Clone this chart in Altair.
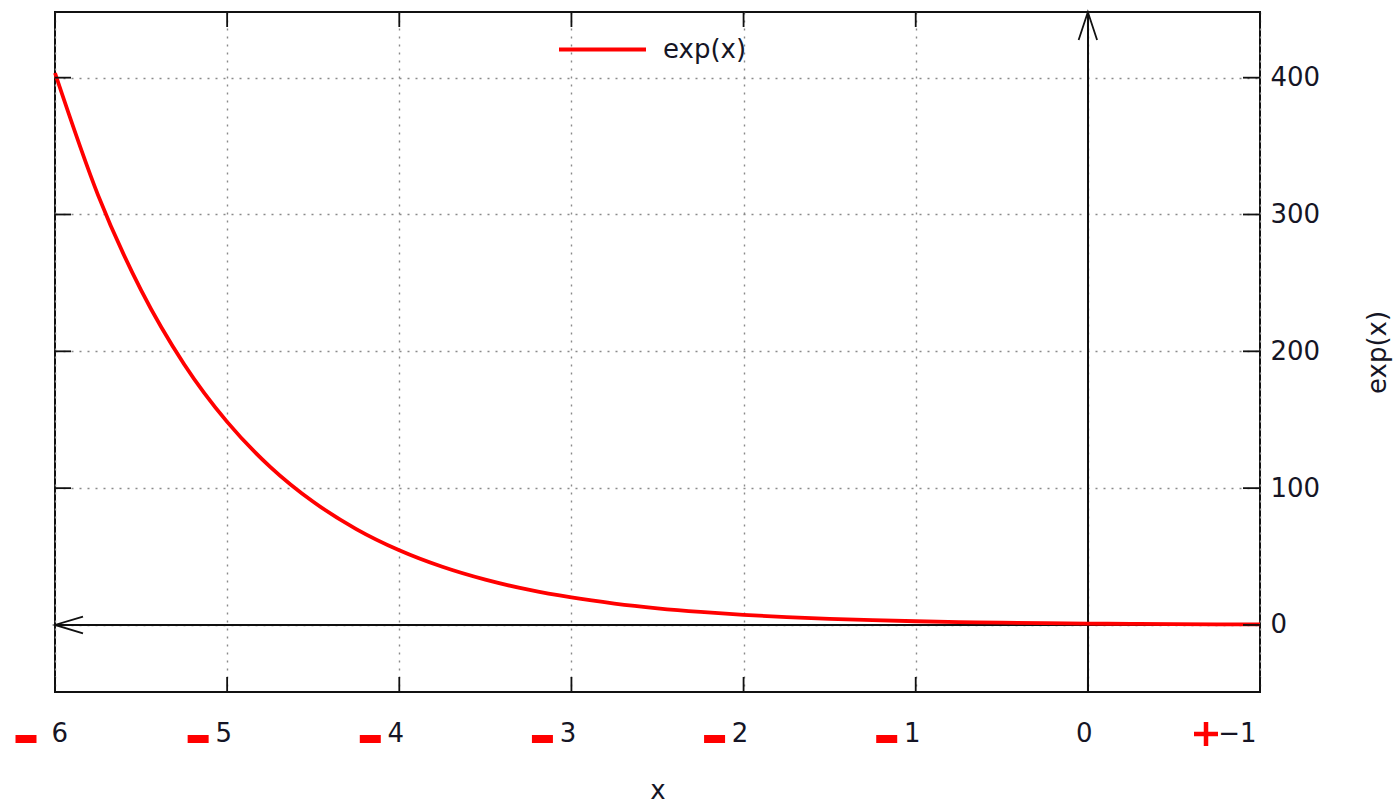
import altair as alt
import pandas as pd

# Sampled values of exp(x) across the plotted range
curve_x = [-1.0, -0.75, -0.5, -0.25, 0.0, 0.25, 0.5, 0.75, 1.0, 1.25, 1.5, 1.75,
           2.0, 2.25, 2.5, 2.75, 3.0, 3.25, 3.5, 3.75, 4.0, 4.25, 4.5, 4.75,
           5.0, 5.25, 5.5, 5.75, 6.0]
curve_y = [0.37, 0.47, 0.61, 0.78, 1.0, 1.28, 1.65, 2.12, 2.72, 3.49, 4.48, 5.75,
           7.39, 9.49, 12.18, 15.64, 20.09, 25.79, 33.12, 42.52, 54.60, 70.11, 90.02, 115.58,
           148.41, 190.57, 244.69, 314.19, 403.43]
series_name = "exp(x)"

x_ticks = [-1, 0, 1, 2, 3, 4, 5, 6]
y_ticks = [0, 100, 200, 300, 400]
x_domain = [-1, 6]
y_domain = [-49, 448]

# red sign markers placed under the tick labels
minus_at = [6, 5, 4, 3, 2, 1]
plus_at = [-1]

W, H = 1205, 680
FONT = "DejaVu Sans"
FS = 26
TXT = "#151525"

curve_df = pd.DataFrame({"x": curve_x, "y": curve_y, "series": series_name})

xs = alt.Scale(domain=x_domain, reverse=True, nice=False, zero=False)
ys = alt.Scale(domain=y_domain, nice=False, zero=False)

grid_axis = dict(grid=True, gridColor="#8a8a8a", gridDash=[2, 6], gridWidth=1.4,
                 ticks=False, tickSize=0, domain=False, format="d",
                 labelFont=FONT, labelFontSize=FS, labelColor=TXT,
                 titleFont=FONT, titleFontSize=FS, titleColor=TXT, titleFontWeight="normal")

curve = alt.Chart(curve_df).mark_line(strokeWidth=3.8, interpolate="monotone").encode(
    x=alt.X("x:Q", scale=xs,
            axis=alt.Axis(orient="bottom", values=x_ticks, title="x", labelPadding=28,
                          labelOffset=-4, titlePadding=31, **grid_axis)),
    y=alt.Y("y:Q", scale=ys,
            axis=alt.Axis(orient="right", values=y_ticks, title="exp(x)", labelPadding=10,
                          titleAngle=270, titlePadding=71, **grid_axis)),
    color=alt.Color("series:N", scale=alt.Scale(range=["#ff0000"]),
                    legend=alt.Legend(orient="none", legendX=502, legendY=-8, title=None,
                                      symbolType="stroke", symbolSize=7569, symbolStrokeWidth=3.8,
                                      labelFont=FONT, labelFontSize=FS, labelColor=TXT,
                                      labelOffset=15, padding=0)),
)

# zero axes
hline = alt.Chart(curve_df).mark_rule(color="#111", strokeWidth=1.6).encode(y=alt.datum(0))
vline = alt.Chart(curve_df).mark_rule(color="#111", strokeWidth=1.6).encode(x=alt.datum(0))

# open arrowheads at the ends of the zero axes
left_head = alt.Chart(pd.DataFrame({"x": [x_domain[1]], "y": [0]})).mark_point(
    shape="M 1 -0.3 L 0 0 L 1 0.3", filled=False, color="#111", strokeWidth=1.8,
    size=3136, opacity=1).encode(x=alt.X("x:Q", scale=xs), y=alt.Y("y:Q", scale=ys))
up_head = alt.Chart(pd.DataFrame({"x": [0], "y": [y_domain[1]]})).mark_point(
    shape="M -0.33 1 L 0 0 L 0.33 1", filled=False, color="#111", strokeWidth=1.8,
    size=3136, opacity=1).encode(x=alt.X("x:Q", scale=xs), y=alt.Y("y:Q", scale=ys))

# inward tick marks on all four borders
xt = pd.DataFrame({"x": x_ticks})
yt = pd.DataFrame({"y": y_ticks})
tick_kw = dict(color="#111", strokeWidth=1.8)
xt_bottom = alt.Chart(xt).mark_rule(**tick_kw).encode(
    x=alt.X("x:Q", scale=xs), y=alt.value(H), y2=alt.value(H - 15))
xt_top = alt.Chart(xt).mark_rule(**tick_kw).encode(
    x=alt.X("x:Q", scale=xs), y=alt.value(0), y2=alt.value(15))
yt_right = alt.Chart(yt).mark_rule(**tick_kw).encode(
    y=alt.Y("y:Q", scale=ys), x=alt.value(W), x2=alt.value(W - 17))
yt_left = alt.Chart(yt).mark_rule(**tick_kw).encode(
    y=alt.Y("y:Q", scale=ys), x=alt.value(0), x2=alt.value(16))

minus_marks = alt.Chart(pd.DataFrame({"x": minus_at})).mark_point(
    shape="M -1 0 L 1 0", filled=False, color="#ff0000", strokeWidth=8, strokeCap="butt",
    size=441, opacity=1, xOffset=-29).encode(x=alt.X("x:Q", scale=xs), y=alt.value(H + 47))
plus_marks = alt.Chart(pd.DataFrame({"x": plus_at})).mark_point(
    shape="M -1 0 L 1 0 M 0 -1 L 0 1", filled=False, color="#ff0000", strokeWidth=4.5,
    strokeCap="butt", size=576, opacity=1, xOffset=-54).encode(
    x=alt.X("x:Q", scale=xs), y=alt.value(H + 42))

chart = alt.layer(
    hline, vline, curve, left_head, up_head,
    xt_bottom, xt_top, yt_right, yt_left, minus_marks, plus_marks,
).properties(
    width=W, height=H,
    autosize=alt.AutoSizeParams(type="none"),
    padding={"left": 55, "top": 12, "right": 1398 - 55 - W, "bottom": 805 - 12 - H},
    background="white",
).configure_view(stroke="#111", strokeWidth=2)

chart.save("out.html", embed_options={"renderer": "svg", "actions": False})
